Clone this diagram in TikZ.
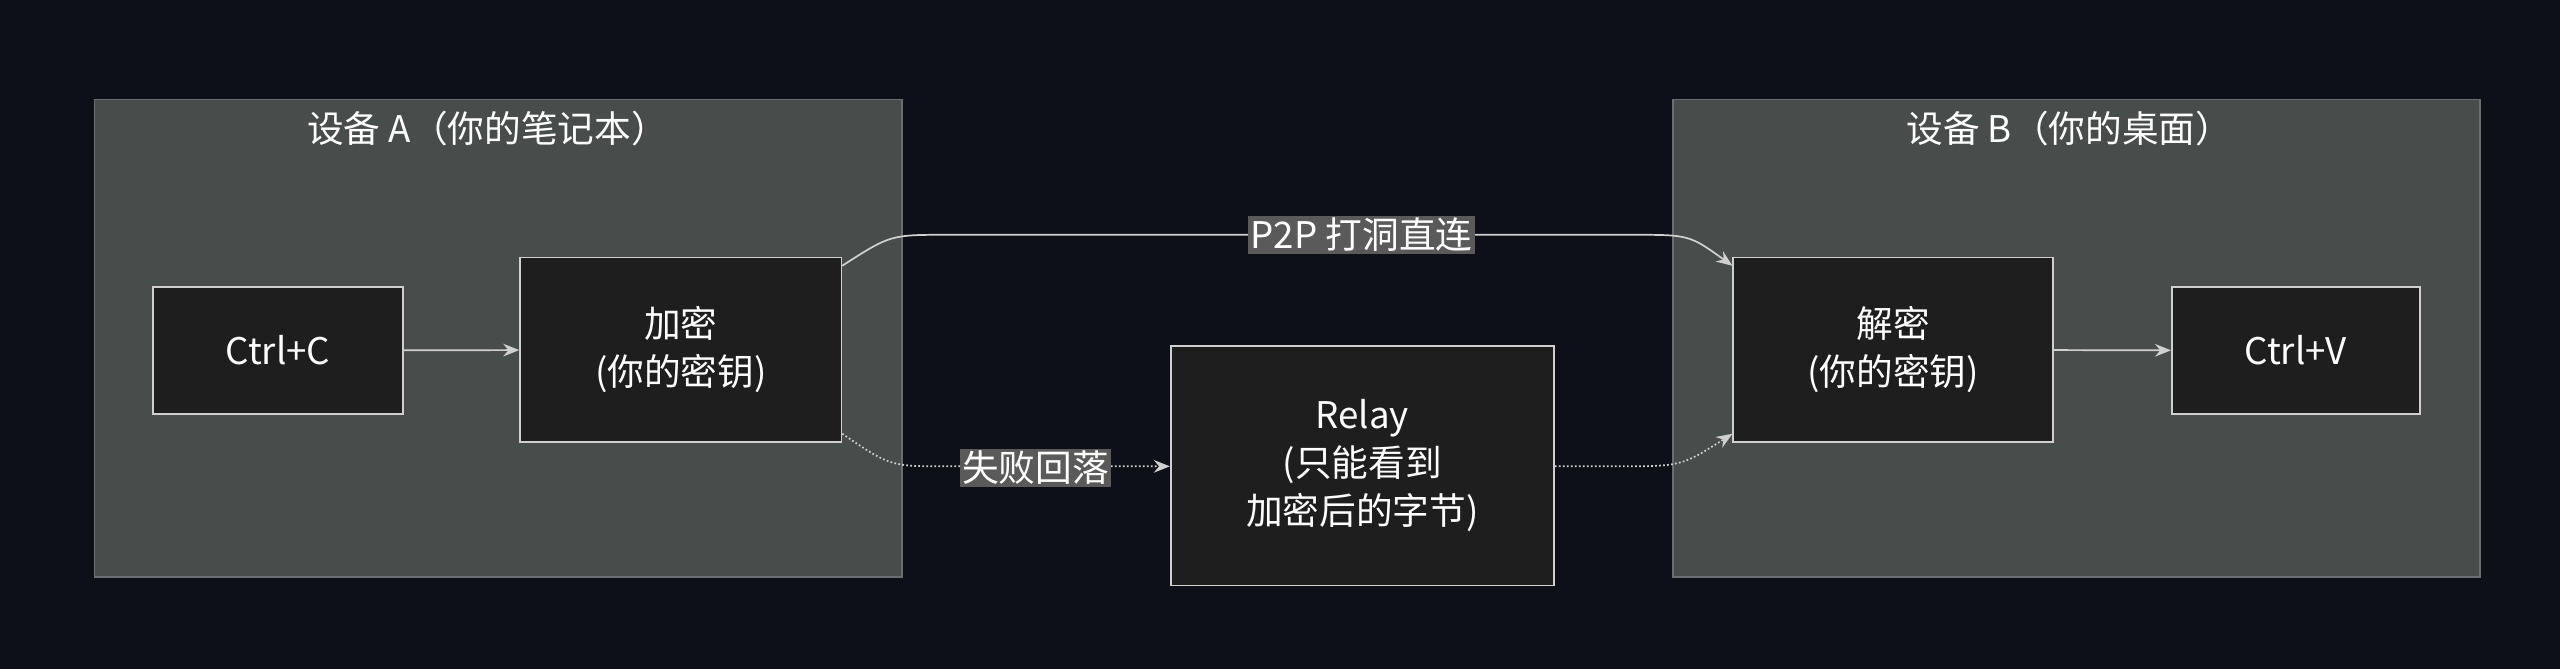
\documentclass[tikz,border=0pt]{standalone}
\usepackage{fontspec}
\setmainfont{Noto Sans CJK SC}
\usetikzlibrary{arrows.meta}
\definecolor{bg}{HTML}{0D1117}
\definecolor{grp}{HTML}{484C4A}
\definecolor{grpb}{HTML}{6A6E70}
\definecolor{box}{HTML}{1E1E1E}
\definecolor{boxb}{HTML}{CFCFCF}
\definecolor{lbl}{HTML}{5A5A5A}
\definecolor{ln}{HTML}{D0D0D0}
\tikzset{
 grpbox/.style={draw=grpb,fill=grp,line width=1.5pt},
 nbox/.style={draw=boxb,fill=box,line width=1.5pt,text=white,align=center,font=\fontsize{32}{42}\selectfont},
 ttl/.style={text=white,font=\fontsize{32}{38}\selectfont},
 conn/.style={draw=ln,line width=1.5pt,-{Stealth[length=14pt,width=11pt]}},
 dconn/.style={conn,dotted},
 elbl/.style={fill=lbl,text=white,inner sep=2pt,font=\fontsize{32}{38}\selectfont}
}
\begin{document}
\begin{tikzpicture}[x=0.05cm,y=-0.05cm]
\fill[bg] (-1,-1) rectangle (1569,409);
\useasboundingbox (0,0) rectangle (1568,408);
\draw[grpbox] (57,60) rectangle (552,353);
\node[ttl] (ta) at (298,78) {设备 A（你的笔记本）};
\draw[grpbox] (1025,60) rectangle (1520,353);
\node[ttl] (tb) at (1268,78) {设备 B（你的桌面）};
\node[nbox,minimum width=153*0.05cm,minimum height=78*0.05cm] (cc) at (169.5,214) {Ctrl+C};
\node[nbox,minimum width=197*0.05cm,minimum height=113*0.05cm] (enc) at (416.5,213.5) {加密\\(你的密钥)};
\node[nbox,minimum width=235*0.05cm,minimum height=147*0.05cm] (relay) at (834.5,284.5) {Relay\\(只能看到\\加密后的字节)};
\node[nbox,minimum width=196*0.05cm,minimum height=113*0.05cm] (dec) at (1160,213.5) {解密\\(你的密钥)};
\node[nbox,minimum width=152*0.05cm,minimum height=78*0.05cm] (cv) at (1407,214) {Ctrl+V};
\draw[conn] (cc) -- (enc);
\draw[conn] (dec) -- (cv);
\coordinate (p1) at (enc.north east|-0,162);
\coordinate (p2) at (dec.north west|-0,162);
\draw[conn] (p1) .. controls (545,143) .. (580,143) -- (1000,143) .. controls (1035,143) .. (p2);
\node[elbl] (pl) at (834,143) {P2P 打洞直连};
\coordinate (f1) at (enc.south east|-0,265);
\coordinate (f2) at (relay.west|-0,285);
\draw[dconn] (f1) .. controls (545,285) .. (580,285) -- (f2);
\node[elbl] (fl) at (634,286) {失败回落};
\coordinate (r1) at (relay.east|-0,285);
\coordinate (r2) at (dec.south west|-0,265);
\draw[dconn] (r1) -- (990,285) .. controls (1030,285) .. (r2);
\end{tikzpicture}
\end{document}
